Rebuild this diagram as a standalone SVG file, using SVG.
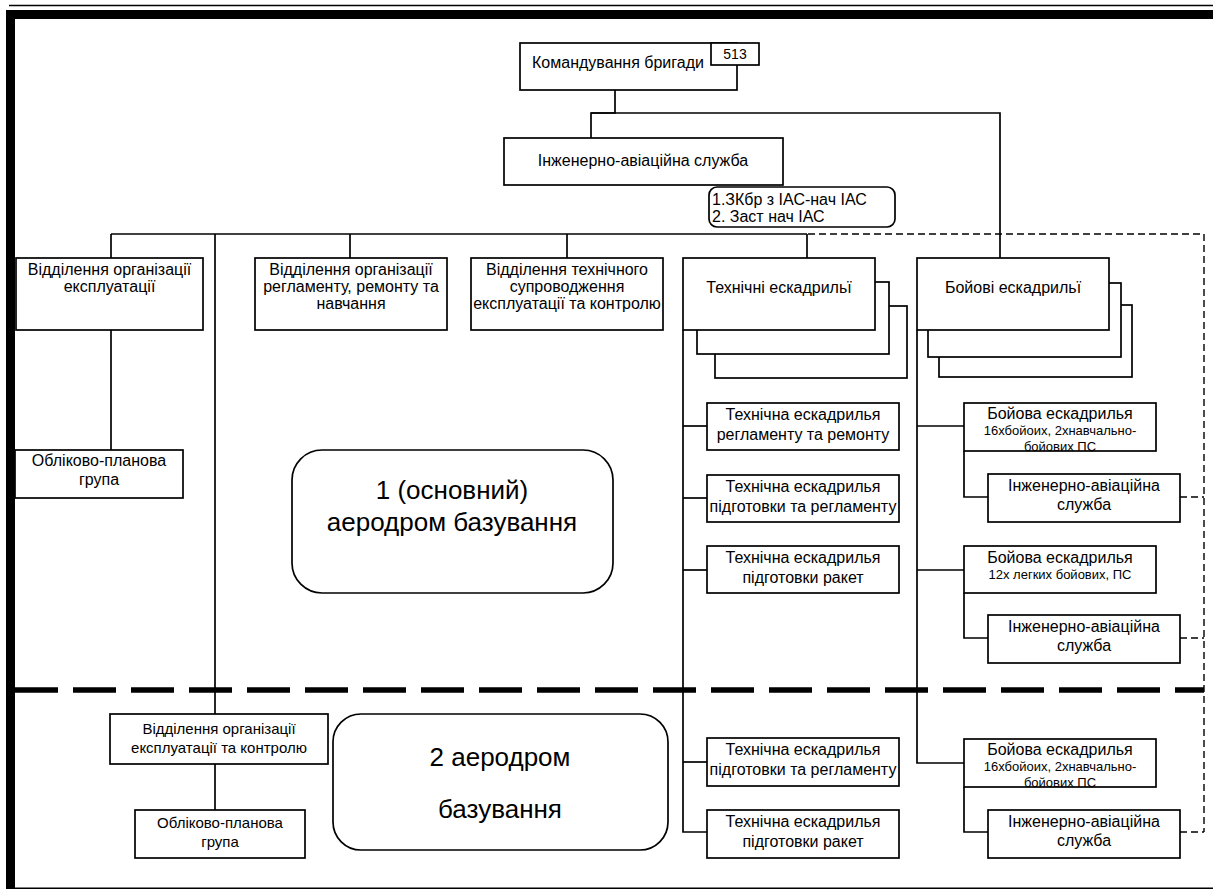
<svg xmlns="http://www.w3.org/2000/svg" width="1213" height="890" viewBox="0 0 1213 890">
<style>
.b{fill:#fff;stroke:#000;stroke-width:1.7}
.r{fill:#fff;stroke:#000;stroke-width:1.7}
.t{font-family:"Liberation Sans",Arial,sans-serif;font-size:16px;fill:#000;text-anchor:middle}
.s{font-family:"Liberation Sans",Arial,sans-serif;font-size:13px;fill:#000;text-anchor:middle}
.big{font-family:"Liberation Sans",Arial,sans-serif;font-size:26px;fill:#000;text-anchor:middle}
.l{fill:none;stroke:#000;stroke-width:1.7}
.d{fill:none;stroke:#000;stroke-width:1.4;stroke-dasharray:7 4}
.D{fill:none;stroke:#000;stroke-width:5.5;stroke-dasharray:43 15}
</style>
<rect width="1213" height="890" fill="#fff"/>
<g id="frame">
<line x1="9" y1="5.5" x2="1213" y2="5.5" stroke="#000" stroke-width="1.6"/>
<rect x="6" y="10" width="1207" height="9" fill="#000"/>
<rect x="6" y="10" width="9" height="879" fill="#000"/>
<line x1="15" y1="888.3" x2="1213" y2="888.3" stroke="#000" stroke-width="1.4"/>
</g>
<g id="connectors">
<polyline class="l" points="615,90 615,113 591,113 591,138"/>
<polyline class="l" points="591,113 1000,113 1000,258"/>
<line class="l" x1="111" y1="234" x2="807" y2="234"/>
<line class="l" x1="111" y1="234" x2="111" y2="258"/>
<line class="l" x1="350" y1="234" x2="350" y2="258"/>
<line class="l" x1="567" y1="234" x2="567" y2="258"/>
<line class="l" x1="807" y1="234" x2="807" y2="258"/>
<line class="l" x1="215" y1="234" x2="215" y2="714"/>
<line class="l" x1="111" y1="330" x2="111" y2="450"/>
<line class="l" x1="215" y1="764" x2="215" y2="810"/>
<polyline class="l" points="683,330 683,832 707,832"/>
<line class="l" x1="683" y1="426" x2="707" y2="426"/>
<line class="l" x1="683" y1="498" x2="707" y2="498"/>
<line class="l" x1="683" y1="570" x2="707" y2="570"/>
<line class="l" x1="683" y1="762" x2="707" y2="762"/>
<polyline class="l" points="917,330 917,763 964,763"/>
<line class="l" x1="917" y1="426" x2="964" y2="426"/>
<line class="l" x1="917" y1="570" x2="964" y2="570"/>
<polyline class="l" points="964,451 964,497 988,497"/>
<polyline class="l" points="964,593 964,638 988,638"/>
<polyline class="l" points="964,787 964,832 988,832"/>
<polyline class="d" points="808,234 1204,234 1204,832"/>
<line class="d" x1="1180" y1="497" x2="1204" y2="497"/>
<line class="d" x1="1180" y1="638" x2="1204" y2="638"/>
<line class="d" x1="1180" y1="832" x2="1204" y2="832"/>
<line class="D" x1="15" y1="690" x2="1204" y2="690"/>
</g>
<g id="command">
<rect class="b" x="520" y="43" width="217" height="47"/>
<text class="t" x="618" y="68">Командування бригади</text>
<rect class="b" x="711" y="43" width="48" height="22"/>
<text class="s" x="735" y="59" style="font-size:14px">513</text>
</g>
<g id="ias">
<rect class="b" x="504" y="138" width="279" height="47"/>
<text class="t" x="643" y="166">Інженерно-авіаційна служба</text>
</g>
<g id="note">
<rect class="r" x="709" y="187" width="186" height="40" rx="8"/>
<text class="t" x="712" y="205" style="text-anchor:start">1.ЗКбр з ІАС-нач ІАС</text>
<text class="t" x="712" y="222" style="text-anchor:start">2. Заст нач ІАС</text>
</g>
<g id="dept1">
<rect class="b" x="16" y="258" width="187" height="72"/>
<text class="t" x="109.5" y="275">Відділення організації</text>
<text class="t" x="109.5" y="292">експлуатації</text>
</g>
<g id="dept2">
<rect class="b" x="255" y="258" width="192" height="72"/>
<text class="t" x="351" y="275">Відділення організації</text>
<text class="t" x="351" y="292">регламенту, ремонту та</text>
<text class="t" x="351" y="309">навчання</text>
</g>
<g id="dept3">
<rect class="b" x="471" y="258" width="192" height="72"/>
<text class="t" x="567" y="275">Відділення технічного</text>
<text class="t" x="567" y="292">супроводження</text>
<text class="t" x="567" y="309">експлуатації та контролю</text>
</g>
<g id="tech-squadrons">
<rect class="b" x="715" y="306" width="192" height="72"/>
<rect class="b" x="697" y="282" width="192" height="72"/>
<rect class="b" x="683" y="258" width="192" height="72"/>
<text class="t" x="779" y="293">Технічні ескадрильї</text>
</g>
<g id="combat-squadrons">
<rect class="b" x="939" y="305" width="193" height="72"/>
<rect class="b" x="928" y="283" width="193" height="74"/>
<rect class="b" x="917" y="258" width="192" height="72"/>
<text class="t" x="1013" y="293">Бойові ескадрильї</text>
</g>
<g id="acct1">
<rect class="b" x="15" y="450" width="168" height="48"/>
<text class="t" x="99" y="466">Обліково-планова</text>
<text class="t" x="99" y="485">група</text>
</g>
<g id="airfield1">
<rect class="r" x="292" y="450" width="321" height="143" rx="30"/>
<text class="big" x="452" y="499">1 (основний)</text>
<text class="big" x="452" y="531">аеродром базування</text>
</g>
<g id="te1">
<rect class="b" x="707" y="403" width="192" height="47"/>
<text class="t" x="803" y="420">Технічна ескадрилья</text>
<text class="t" x="803" y="440">регламенту та ремонту</text>
</g>
<g id="te2">
<rect class="b" x="707" y="475" width="192" height="47"/>
<text class="t" x="803" y="492">Технічна ескадрилья</text>
<text class="t" x="803" y="512">підготовки та регламенту</text>
</g>
<g id="te3">
<rect class="b" x="707" y="546" width="192" height="47"/>
<text class="t" x="803" y="563">Технічна ескадрилья</text>
<text class="t" x="803" y="583">підготовки ракет</text>
</g>
<g id="cs1">
<text class="t" x="1060" y="419">Бойова ескадрилья</text>
<text class="s" x="1060" y="435">16хбойоих, 2хнавчально-</text>
<text class="s" x="1060" y="451">бойових ПС</text>
<rect x="964" y="403" width="192" height="48" fill="none" stroke="#000" stroke-width="1.7"/>
</g>
<g id="ias1">
<rect class="b" x="988" y="474" width="192" height="48"/>
<text class="t" x="1084" y="491">Інженерно-авіаційна</text>
<text class="t" x="1084" y="510">служба</text>
</g>
<g id="cs2">
<rect class="b" x="964" y="546" width="192" height="47"/>
<text class="t" x="1060" y="563">Бойова ескадрилья</text>
<text class="s" x="1060" y="579">12х легких бойових, ПС</text>
</g>
<g id="ias2">
<rect class="b" x="988" y="615" width="192" height="48"/>
<text class="t" x="1084" y="632">Інженерно-авіаційна</text>
<text class="t" x="1084" y="651">служба</text>
</g>
<g id="dept-lower">
<rect class="b" x="110" y="714" width="218" height="50"/>
<text class="t" x="219" y="734" style="font-size:15px">Відділення організації</text>
<text class="t" x="219" y="753" style="font-size:15px">експлуатації та контролю</text>
</g>
<g id="acct2">
<rect class="b" x="135" y="810" width="170" height="48"/>
<text class="t" x="220" y="828" style="font-size:15px">Обліково-планова</text>
<text class="t" x="220" y="847" style="font-size:15px">група</text>
</g>
<g id="airfield2">
<rect class="r" x="333" y="714" width="335" height="136" rx="28"/>
<text class="big" x="500" y="766">2 аеродром</text>
<text class="big" x="500" y="818">базування</text>
</g>
<g id="te4">
<rect class="b" x="707" y="738" width="192" height="48"/>
<text class="t" x="803" y="755">Технічна ескадрилья</text>
<text class="t" x="803" y="775">підготовки та регламенту</text>
</g>
<g id="te5">
<rect class="b" x="707" y="810" width="192" height="48"/>
<text class="t" x="803" y="827">Технічна ескадрилья</text>
<text class="t" x="803" y="847">підготовки ракет</text>
</g>
<g id="cs3">
<text class="t" x="1060" y="755">Бойова ескадрилья</text>
<text class="s" x="1060" y="771">16хбойоих, 2хнавчально-</text>
<text class="s" x="1060" y="787">бойових ПС</text>
<rect x="964" y="739" width="192" height="48" fill="none" stroke="#000" stroke-width="1.7"/>
</g>
<g id="ias3">
<rect class="b" x="988" y="810" width="192" height="48"/>
<text class="t" x="1084" y="827">Інженерно-авіаційна</text>
<text class="t" x="1084" y="846">служба</text>
</g>
</svg>
